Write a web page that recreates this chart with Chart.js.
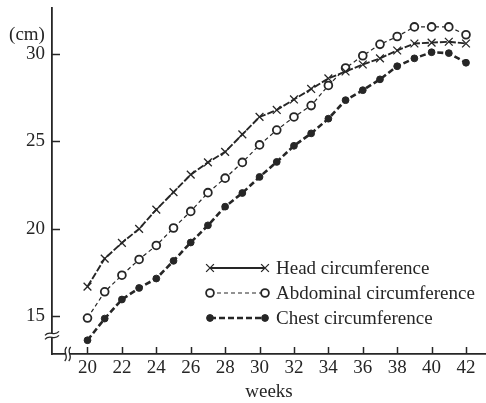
<!DOCTYPE html>
<html>
<head>
<meta charset="utf-8">
<script src="https://cdn.jsdelivr.net/npm/chart.js@4/dist/chart.umd.min.js"></script>
<style>
  html, body { margin: 0; padding: 0; background: #fff; }
  #wrap { position: relative; width: 486px; height: 403px; }
</style>
</head>
<body>
<div id="wrap"><canvas id="c" width="486" height="403"></canvas></div>
<script>
const weeks = [20,21,22,23,24,25,26,27,28,29,30,31,32,33,34,35,36,37,38,39,40,41,42];
const headCirc = [16.7,18.3,19.2,20.0,21.1,22.1,23.1,23.8,24.4,25.4,26.4,26.8,27.4,28.0,28.6,29.0,29.4,29.75,30.2,30.6,30.65,30.7,30.6];
const abdominalCirc = [14.9,16.4,17.35,18.25,19.05,20.05,21.0,22.07,22.9,23.8,24.8,25.65,26.4,27.05,28.2,29.2,29.9,30.55,31.0,31.55,31.55,31.55,31.1];
const chestCirc = [13.63,14.87,15.96,16.62,17.16,18.17,19.22,20.2,21.27,22.05,22.97,23.83,24.75,25.46,26.3,27.36,27.93,28.55,29.3,29.75,30.1,30.05,29.5];
const xTickLabels = [20,22,24,26,28,30,32,34,36,38,40,42];
const yTickLabels = [15,20,25,30];
const seriesNames = ['Head circumference','Abdominal circumference','Chest circumference'];
const yUnit = '(cm)';
const xTitle = 'weeks';

const INK = '#262626';
const FONT = '"Liberation Serif", "Times New Roman", serif';
const FS = 19;

function pts(arr){ return weeks.map((w,i)=>({x:w,y:arr[i]})); }

const styles = [
  {borderDash:[7,2], borderWidth:1.9, pointStyle:'crossRot', pointRadius:5.5, pointBorderWidth:1.3, pointBackgroundColor:INK},
  {borderDash:[4,3], borderWidth:1.2, pointStyle:'circle', pointRadius:3.9, pointBorderWidth:1.8, pointBackgroundColor:'#fff'},
  {borderDash:[6,3], borderWidth:2.6, pointStyle:'circle', pointRadius:3.4, pointBorderWidth:1, pointBackgroundColor:INK}
];

const datasets = [headCirc, abdominalCirc, chestCirc].map((arr,i)=>Object.assign({
  label: seriesNames[i],
  data: pts(arr),
  borderColor: INK,
  pointBorderColor: INK,
  tension: 0,
  fill: false,
  clip: false
}, styles[i]));

const decor = {
  id: 'decor',
  afterDraw(chart){
    const ctx = chart.ctx;
    const xs = chart.scales.x, ys = chart.scales.y;
    const ca = chart.chartArea;
    ctx.save();
    ctx.strokeStyle = INK;
    ctx.lineWidth = 1.5;
    // inward tick marks
    xTickLabels.forEach(v=>{
      const px = Math.round(xs.getPixelForValue(v))+0.5;
      ctx.beginPath(); ctx.moveTo(px, ca.bottom); ctx.lineTo(px, ca.bottom-7); ctx.stroke();
    });
    yTickLabels.forEach(v=>{
      const py = Math.round(ys.getPixelForValue(v))+0.5;
      ctx.beginPath(); ctx.moveTo(ca.left, py); ctx.lineTo(ca.left+8, py); ctx.stroke();
    });
    // axis break on y axis
    const yb = ys.getPixelForValue(13.85);
    ctx.fillStyle = '#fff';
    ctx.beginPath();
    ctx.moveTo(ca.left-7, yb-1); ctx.bezierCurveTo(ca.left-2, yb-7, ca.left+2, yb+1, ca.left+7, yb-5);
    ctx.lineTo(ca.left+7, yb-1); ctx.bezierCurveTo(ca.left+2, yb+5, ca.left-2, yb-3, ca.left-7, yb+3);
    ctx.closePath(); ctx.fill();
    ctx.lineWidth = 1.3;
    ctx.beginPath();
    ctx.moveTo(ca.left-7, yb-1); ctx.bezierCurveTo(ca.left-2, yb-7, ca.left+2, yb+1, ca.left+7, yb-5);
    ctx.stroke();
    ctx.beginPath();
    ctx.moveTo(ca.left-7, yb+3); ctx.bezierCurveTo(ca.left-2, yb-3, ca.left+2, yb+5, ca.left+7, yb-1);
    ctx.stroke();
    // axis break on x axis
    const xb = xs.getPixelForValue(18.85);
    const b = ca.bottom;
    ctx.beginPath();
    ctx.moveTo(xb-1, b-7); ctx.bezierCurveTo(xb-6, b-2, xb+2, b+2, xb-3, b+7);
    ctx.lineTo(xb+1, b+7); ctx.bezierCurveTo(xb+6, b+2, xb-2, b-2, xb+3, b-7);
    ctx.closePath(); ctx.fill();
    ctx.beginPath();
    ctx.moveTo(xb-1, b-7); ctx.bezierCurveTo(xb-6, b-2, xb+2, b+2, xb-3, b+7); ctx.stroke();
    ctx.beginPath();
    ctx.moveTo(xb+3, b-7); ctx.bezierCurveTo(xb-2, b-2, xb+6, b+2, xb+1, b+7); ctx.stroke();
    // unit label
    ctx.fillStyle = INK;
    ctx.font = FS + 'px ' + FONT;
    ctx.textAlign = 'center';
    ctx.textBaseline = 'middle';
    ctx.fillText(yUnit, 27, 35);
    // legend
    const rows = [268, 293, 318];
    const x0 = 210, x1 = 265, tx = 276;
    chart.data.datasets.forEach((ds,i)=>{
      const y = rows[i];
      ctx.save();
      ctx.strokeStyle = INK;
      ctx.lineWidth = ds.borderWidth;
      ctx.setLineDash(i===0 ? [] : ds.borderDash);
      ctx.beginPath(); ctx.moveTo(x0, y); ctx.lineTo(x1, y); ctx.stroke();
      ctx.setLineDash([]);
      [x0, x1].forEach(px=>{
        ctx.fillStyle = ds.pointBackgroundColor; ctx.strokeStyle = INK; ctx.lineWidth = ds.pointBorderWidth;
        Chart.helpers.drawPoint(ctx, {pointStyle: ds.pointStyle, radius: ds.pointRadius, borderWidth: ds.pointBorderWidth}, px, y);
      });
      ctx.restore();
      ctx.fillStyle = INK;
      ctx.font = FS + 'px ' + FONT;
      ctx.textAlign = 'left';
      ctx.textBaseline = 'middle';
      ctx.fillText(ds.label, tx, y+1);
    });
    ctx.restore();
  }
};

new Chart(document.getElementById('c'), {
  type: 'line',
  data: { datasets },
  options: {
    responsive: false,
    animation: false,
    layout: { autoPadding: false, padding: { top: 8, right: 0, left: 0, bottom: 0 } },
    plugins: { legend: { display: false }, tooltip: { enabled: false } },
    scales: {
      x: {
        type: 'linear',
        min: 17.937, max: 43.162,
        afterBuildTicks(s){ s.ticks = xTickLabels.map(v=>({value:v})); },
        afterFit(s){ s.height = 49; s.paddingLeft = 0; s.paddingRight = 0; },
        grid: { display: false, drawTicks: false },
        border: { display: true, color: INK, width: 1.8 },
        ticks: { color: INK, font: { family: FONT, size: FS }, padding: 3, maxRotation: 0, autoSkip: false },
        title: { display: true, text: xTitle, color: INK, font: { family: FONT, size: FS }, padding: { top: 0, bottom: 0 } }
      },
      y: {
        type: 'linear',
        min: 12.844, max: 32.63,
        afterBuildTicks(s){ s.ticks = yTickLabels.map(v=>({value:v})); },
        afterFit(s){ s.width = 52; s.paddingTop = 0; s.paddingBottom = 0; },
        grid: { display: false, drawTicks: false },
        border: { display: true, color: INK, width: 1.8 },
        ticks: { color: INK, font: { family: FONT, size: FS }, padding: 7, autoSkip: false }
      }
    }
  },
  plugins: [decor]
});
</script>
</body>
</html>
